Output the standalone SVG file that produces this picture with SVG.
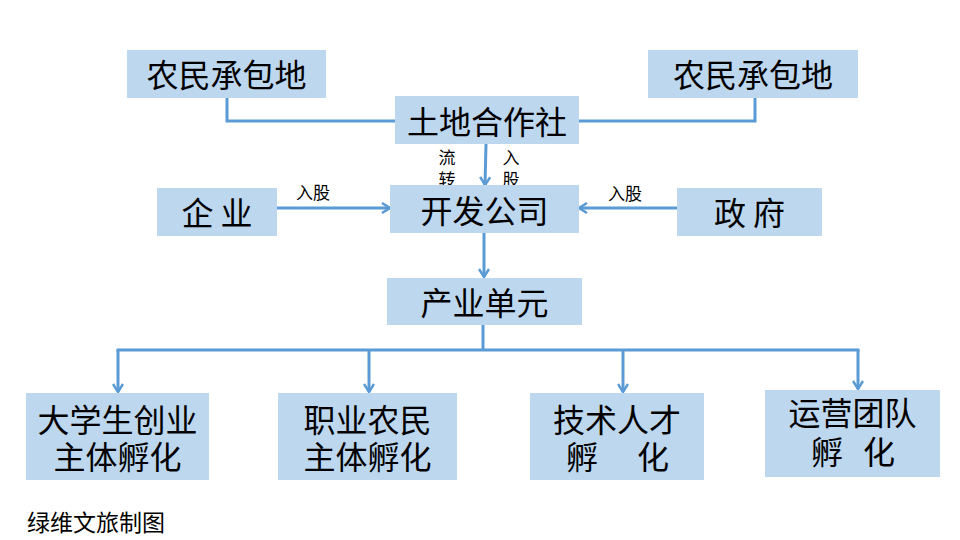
<svg xmlns="http://www.w3.org/2000/svg" width="960" height="540" viewBox="0 0 960 540">
<defs>
<style>
.box{fill:#BDD7EE;}
.t{font-family:"Noto Sans CJK SC","Microsoft YaHei",sans-serif;font-size:32px;fill:#000;text-anchor:middle;}
.s{font-family:"Noto Sans CJK SC",sans-serif;font-size:17px;fill:#000;text-anchor:middle;}
.c{fill:none;stroke:#5B9BD5;stroke-width:3;}
</style>
<marker id="ah" viewBox="0 0 12 12" refX="10" refY="6" markerWidth="12" markerHeight="12" markerUnits="userSpaceOnUse" orient="auto">
<path d="M2,1 L10,6 L2,11" fill="none" stroke="#5B9BD5" stroke-width="2.5"/>
</marker>
</defs>
<rect width="960" height="540" fill="#fff"/>
<g id="connectors">
<polyline class="c" points="227,98 227,121 395,121"/>
<polyline class="c" points="579,121 755,121 755,98"/>
<line class="c" x1="486" y1="144" x2="485" y2="185" marker-end="url(#ah)"/>
<line class="c" x1="277" y1="208" x2="390" y2="208" marker-end="url(#ah)"/>
<line class="c" x1="677" y1="208" x2="579" y2="208" marker-end="url(#ah)"/>
<line class="c" x1="484" y1="233" x2="484" y2="277" marker-end="url(#ah)"/>
<polyline class="c" points="483,325 483,350"/>
<line class="c" x1="116.5" y1="350" x2="859.5" y2="350"/>
<line class="c" x1="118" y1="350" x2="118" y2="392" marker-end="url(#ah)"/>
<line class="c" x1="369" y1="350" x2="369" y2="392" marker-end="url(#ah)"/>
<line class="c" x1="623" y1="350" x2="623" y2="392" marker-end="url(#ah)"/>
<line class="c" x1="858" y1="350" x2="858" y2="389" marker-end="url(#ah)"/>
<text class="s" x="447" y="164">流</text>
<text class="s" x="447" y="186">转</text>
<text class="s" x="511" y="164">入</text>
<text class="s" x="511" y="186">股</text>
<text class="s" x="313" y="199">入股</text>
<text class="s" x="625" y="200">入股</text>
</g>
<g id="farmland-left">
<rect class="box" x="127" y="50" width="199" height="48"/>
<text class="t" x="226.5" y="87">农民承包地</text>
</g>
<g id="farmland-right">
<rect class="box" x="648" y="50" width="210" height="48"/>
<text class="t" x="753" y="87">农民承包地</text>
</g>
<g id="coop">
<rect class="box" x="395" y="96" width="184" height="48"/>
<text class="t" x="487" y="134">土地合作社</text>
</g>
<g id="enterprise">
<rect class="box" x="157" y="188" width="120" height="48"/>
<text class="t" x="217" y="225">企  业</text>
</g>
<g id="devco">
<rect class="box" x="390" y="185" width="189" height="48"/>
<text class="t" x="484.5" y="223">开发公司</text>
</g>
<g id="government">
<rect class="box" x="677" y="188" width="145" height="48"/>
<text class="t" x="749.5" y="225">政  府</text>
</g>
<g id="industry">
<rect class="box" x="387" y="278" width="195" height="47"/>
<text class="t" x="484.5" y="315">产业单元</text>
</g>
<g id="students">
<rect class="box" x="26" y="393" width="183" height="87"/>
<text class="t" x="117.5" y="432">大学生创业</text>
<text class="t" x="117.5" y="469">主体孵化</text>
</g>
<g id="farmers">
<rect class="box" x="278" y="393" width="179" height="87"/>
<text class="t" x="367.5" y="432">职业农民</text>
<text class="t" x="367.5" y="469">主体孵化</text>
</g>
<g id="tech">
<rect class="box" x="530" y="393" width="174" height="87"/>
<text class="t" x="617" y="432">技术人才</text>
<text class="t" y="469"><tspan x="582">孵</tspan><tspan x="653">化</tspan></text>
</g>
<g id="ops">
<rect class="box" x="765" y="390" width="175" height="87"/>
<text class="t" x="852.5" y="425">运营团队</text>
<text class="t" y="464"><tspan x="827">孵</tspan><tspan x="879">化</tspan></text>
</g>
<text x="27" y="531" font-family="'Noto Sans CJK SC',sans-serif" font-size="23" fill="#000">绿维文旅制图</text>
</svg>
